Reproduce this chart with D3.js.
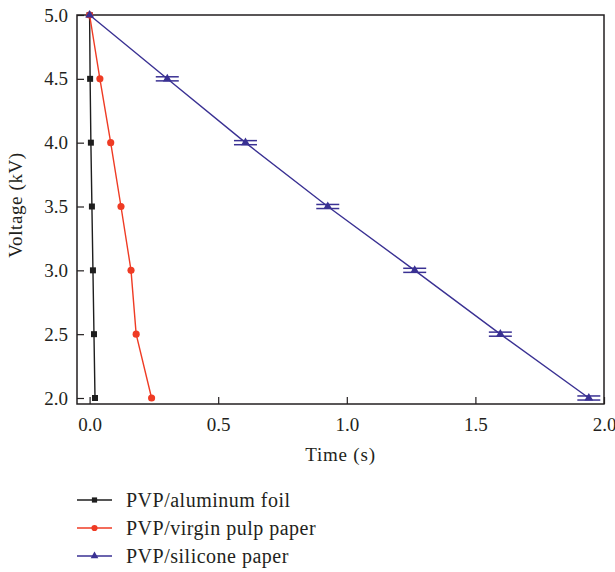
<!DOCTYPE html>
<html>
<head>
<meta charset="utf-8">
<script src="https://cdn.jsdelivr.net/npm/d3@7"></script>
<style>
  body { margin: 0; background: #ffffff; }
</style>
</head>
<body>
<div id="chart"></div>
<script>
const voltage = [5.0, 4.5, 4.0, 3.5, 3.0, 2.5, 2.0]

const timeFoil = [0, 0.002, 0.005, 0.009, 0.013, 0.017, 0.021]
const timePulp = [0, 0.04, 0.082, 0.122, 0.161, 0.181, 0.241]
const timeSilicone = [0, 0.302, 0.606, 0.926, 1.264, 1.597, 1.941]
const errSilicone = [0, 0.016, 0.016, 0.016, 0.016, 0.016, 0.016]

const xTicks = [0.0, 0.5, 1.0, 1.5, 2.0]
const yTicks = [2.0, 2.5, 3.0, 3.5, 4.0, 4.5, 5.0]

const seriesNames = ['PVP/aluminum foil', 'PVP/virgin pulp paper', 'PVP/silicone paper']

const W = 615
const H = 572
const margin = { left: 77, right: 11, top: 15, bottom: 168 }

const FONT = "'Liberation Serif', 'DejaVu Serif', serif"
const INK = '#231f20'
const BLACK = '#1e1e1e'
const RED = '#ef3b24'
const BLUE = '#3a3193'

const svg = d3
  .select('#chart')
  .append('svg')
  .attr('width', W)
  .attr('height', H)
  .attr('font-family', FONT)

const x = d3.scaleLinear().domain([-0.049, 2.0]).range([margin.left, W - margin.right])
const y = d3.scaleLinear().domain([1.953, 5.0]).range([H - margin.bottom, margin.top])

const plotBottom = H - margin.bottom
const plotRight = W - margin.right

// frame
svg
  .append('rect')
  .attr('x', margin.left)
  .attr('y', margin.top)
  .attr('width', plotRight - margin.left)
  .attr('height', plotBottom - margin.top)
  .attr('fill', 'none')
  .attr('stroke', INK)
  .attr('stroke-width', 1.5)

// axes, ticks point inward
const xAxis = svg
  .append('g')
  .attr('transform', `translate(0, ${plotBottom})`)
  .call(d3.axisBottom(x).tickValues(xTicks).tickFormat(d3.format('.1f')).tickSizeInner(-7).tickSizeOuter(0))
xAxis.attr('font-family', FONT).attr('font-size', 19)
xAxis.select('.domain').remove()
xAxis.selectAll('line').attr('stroke', INK).attr('stroke-width', 1.2)
xAxis.selectAll('text').attr('y', 14).attr('dy', '0.71em').attr('fill', INK)

const yAxis = svg
  .append('g')
  .attr('transform', `translate(${margin.left}, 0)`)
  .call(d3.axisLeft(y).tickValues(yTicks).tickFormat(d3.format('.1f')).tickSizeInner(-7).tickSizeOuter(0))
yAxis.attr('font-family', FONT).attr('font-size', 19)
yAxis.select('.domain').remove()
yAxis.selectAll('line').attr('stroke', INK).attr('stroke-width', 1.2)
yAxis.selectAll('text').attr('x', -9).attr('fill', INK)

// axis titles
svg
  .append('text')
  .attr('x', (margin.left + plotRight) / 2)
  .attr('y', 461)
  .attr('text-anchor', 'middle')
  .attr('font-size', 19)
  .attr('letter-spacing', 0.8)
  .attr('fill', INK)
  .text('Time (s)')

svg
  .append('text')
  .attr('transform', `translate(22, 205) rotate(-90)`)
  .attr('text-anchor', 'middle')
  .attr('font-size', 19)
  .attr('letter-spacing', 0.6)
  .attr('fill', INK)
  .text('Voltage (kV)')

const line = d3
  .line()
  .x((d) => x(d[0]))
  .y((d) => y(d[1]))

const series = [
  { name: seriesNames[0], times: timeFoil, color: BLACK, symbol: d3.symbolSquare, size: 36 },
  { name: seriesNames[1], times: timePulp, color: RED, symbol: d3.symbolCircle, size: 40 },
  { name: seriesNames[2], times: timeSilicone, color: BLUE, symbol: d3.symbolTriangle, size: 34 },
]

const plot = svg.append('g')

series.forEach((s) => {
  const pts = s.times.map((t, i) => [t, voltage[i]])
  plot
    .append('path')
    .attr('d', line(pts))
    .attr('fill', 'none')
    .attr('stroke', s.color)
    .attr('stroke-width', 1.4)

  plot
    .selectAll(null)
    .data(pts)
    .join('path')
    .attr('transform', (d) => `translate(${x(d[0])}, ${y(d[1])})`)
    .attr('d', d3.symbol(s.symbol, s.size))
    .attr('fill', s.color)
})

// error bars on silicone paper
const capHalf = 11.5
const errPts = timeSilicone.map((t, i) => ({ t, v: voltage[i], e: errSilicone[i] })).filter((d) => d.e > 0)
errPts.forEach((d) => {
  ;[d.v + d.e, d.v - d.e].forEach((v) => {
    plot
      .append('line')
      .attr('x1', x(d.t) - capHalf)
      .attr('x2', x(d.t) + capHalf)
      .attr('y1', y(v))
      .attr('y2', y(v))
      .attr('stroke', BLUE)
      .attr('stroke-width', 1.5)
  })
  plot
    .append('line')
    .attr('x1', x(d.t))
    .attr('x2', x(d.t))
    .attr('y1', y(d.v + d.e))
    .attr('y2', y(d.v - d.e))
    .attr('stroke', BLUE)
    .attr('stroke-width', 1.2)
})

// legend
const legend = svg.append('g').attr('transform', 'translate(77, 500)')
series.forEach((s, i) => {
  const row = legend.append('g').attr('transform', `translate(0, ${i * 28})`)
  row
    .append('line')
    .attr('x1', 0)
    .attr('x2', 35)
    .attr('stroke', s.color)
    .attr('stroke-width', 1.4)
  row
    .append('path')
    .attr('transform', 'translate(17.5, 0)')
    .attr('d', d3.symbol(s.symbol, s.size * 0.75))
    .attr('fill', s.color)
  row
    .append('text')
    .attr('x', 49)
    .attr('dy', '0.33em')
    .attr('font-size', 20)
    .attr('letter-spacing', 0.5)
    .attr('fill', INK)
    .text(s.name)
})
</script>
</body>
</html>
